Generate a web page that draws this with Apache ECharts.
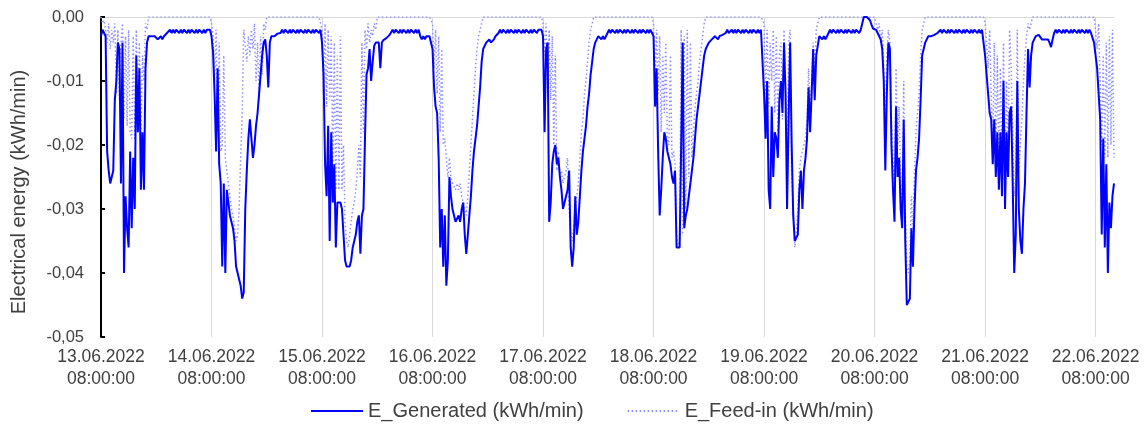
<!DOCTYPE html>
<html>
<head>
<meta charset="utf-8">
<script src="https://cdn.jsdelivr.net/npm/echarts@6/dist/echarts.min.js"></script>
<style>
  html, body { margin: 0; padding: 0; background: #fff; }
  #chart { width: 1147px; height: 428px; }
</style>
</head>
<body>
<div id="chart"></div>
<script>
// x axis: one point every 20 minutes from 13.06.2022 08:00, labels every day at 08:00
var startDay = 13;
var stepsPerDay = 72;
var dayLabels = ['13.06.2022', '14.06.2022', '15.06.2022', '16.06.2022', '17.06.2022',
                 '18.06.2022', '19.06.2022', '20.06.2022', '21.06.2022', '22.06.2022'];
var yTicks = [-0.05, -0.04, -0.03, -0.02, -0.01, 0];

// E_Generated (kWh/min), one array per day, 08:00 -> 07:40 next day
var gen13 = [
  -0.003, -0.002, -0.002, -0.003, -0.021, -0.024, -0.026, -0.026, -0.024, -0.013,
  -0.010, -0.004, -0.005, -0.026, -0.004, -0.040, -0.028, -0.033, -0.036, -0.021,
  -0.033, -0.022, -0.030, -0.006, -0.018, -0.008, -0.027, -0.018, -0.027, -0.008,
  -0.004, -0.003,
  -0.003, -0.003, -0.003, -0.003, -0.0033, -0.0035, -0.0035, -0.003, -0.0035, -0.003,
  -0.003, -0.0025, -0.0025, -0.002, -0.0025, -0.002, -0.0025, -0.002, -0.002, -0.0025,
  -0.002, -0.0025, -0.002, -0.002, -0.0025, -0.002, -0.0025, -0.002, -0.002, -0.0025,
  -0.002, -0.0025, -0.002, -0.002, -0.0025, -0.002, -0.0025, -0.002, -0.002, -0.002
];
var gen14 = [
  -0.003, -0.0055, -0.012, -0.021, -0.008, -0.023, -0.026, -0.039, -0.026, -0.040,
  -0.027, -0.029, -0.031, -0.031, -0.033, -0.035, -0.039, -0.040, -0.040, -0.042,
  -0.044, -0.043, -0.030, -0.024, -0.019, -0.016, -0.016, -0.022, -0.020, -0.017,
  -0.015, -0.012, -0.009, -0.006, -0.004, -0.0035, -0.006, -0.011, -0.004, -0.003,
  -0.003, -0.003, -0.0028, -0.0026, -0.0025, -0.0025, -0.002, -0.0025, -0.002, -0.002,
  -0.0025, -0.002, -0.0025, -0.002, -0.002, -0.0025, -0.002, -0.0025, -0.002, -0.002,
  -0.0025, -0.002, -0.0025, -0.002, -0.002, -0.0025, -0.002, -0.0025, -0.002, -0.002,
  -0.0025, -0.002
];
var gen15 = [
  -0.004, -0.009, -0.023, -0.028, -0.017, -0.035, -0.018, -0.029, -0.023, -0.036,
  -0.029, -0.029, -0.029, -0.030, -0.030, -0.038, -0.039, -0.039, -0.039, -0.038,
  -0.036, -0.035, -0.034, -0.032, -0.031, -0.037, -0.031, -0.030, -0.019, -0.009,
  -0.008, -0.005, -0.010, -0.007, -0.0045, -0.004, -0.0042, -0.004, -0.008, -0.004,
  -0.0036, -0.0036, -0.0033, -0.003, -0.0028, -0.0025,
  -0.002, -0.0025, -0.002, -0.002, -0.0025, -0.002, -0.0025, -0.002, -0.002, -0.0025,
  -0.002, -0.0025, -0.002, -0.002, -0.0025, -0.002, -0.0025, -0.002, -0.003, -0.0035,
  -0.003, -0.0035, -0.003, -0.003, -0.003, -0.003
];
var gen16 = [
  -0.005, -0.011, -0.014, -0.015, -0.022, -0.036, -0.030, -0.039, -0.031, -0.042,
  -0.038, -0.025, -0.028, -0.030, -0.031, -0.032, -0.032, -0.031, -0.032, -0.030,
  -0.029, -0.034, -0.037, -0.034, -0.031, -0.028, -0.024, -0.021, -0.019, -0.017,
  -0.014, -0.011, -0.007, -0.005, -0.0045, -0.004, -0.004, -0.0035, -0.004, -0.004,
  -0.0035, -0.003, -0.0028,
  -0.0025, -0.002, -0.0025, -0.002, -0.002, -0.0025, -0.002, -0.0025, -0.002, -0.002,
  -0.0025, -0.002, -0.0025, -0.002, -0.002, -0.0025, -0.002, -0.0025, -0.002, -0.002,
  -0.0025, -0.002, -0.0025, -0.002, -0.002, -0.0025, -0.002, -0.002, -0.002
];
var gen17 = [
  -0.003, -0.018, -0.005, -0.004, -0.032, -0.029, -0.023, -0.021, -0.020, -0.023,
  -0.022, -0.025, -0.027, -0.030, -0.029, -0.029, -0.027, -0.024, -0.036, -0.039,
  -0.036, -0.028, -0.034, -0.032, -0.028, -0.024, -0.021, -0.019, -0.017, -0.014,
  -0.012, -0.009, -0.007, -0.005, -0.004, -0.0035, -0.003, -0.003, -0.0035, -0.003,
  -0.0035, -0.003,
  -0.0025, -0.002, -0.0025, -0.002, -0.002, -0.0025, -0.002, -0.0025, -0.002, -0.002,
  -0.0025, -0.002, -0.0025, -0.002, -0.002, -0.0025, -0.002, -0.0025, -0.002, -0.002,
  -0.0025, -0.002, -0.0025, -0.002, -0.002, -0.0025, -0.002, -0.0025, -0.002, -0.002
];
var gen18 = [
  -0.003, -0.014, -0.008, -0.021, -0.031, -0.027, -0.022, -0.018, -0.019, -0.021,
  -0.022, -0.023, -0.025, -0.026, -0.024, -0.036, -0.036, -0.036, -0.036, -0.004,
  -0.033, -0.031, -0.030, -0.028, -0.026, -0.024, -0.022, -0.019, -0.016, -0.014,
  -0.012, -0.010, -0.008, -0.006, -0.005, -0.0045, -0.004, -0.004, -0.0035, -0.0038,
  -0.003, -0.003, -0.0035, -0.003, -0.003, -0.0028,
  -0.0025, -0.0025, -0.002, -0.0025, -0.0025, -0.002, -0.0025, -0.002, -0.0025, -0.002,
  -0.002, -0.0025, -0.002, -0.0025, -0.002, -0.002, -0.0025, -0.002, -0.0025, -0.002,
  -0.002, -0.0025, -0.002, -0.0025, -0.002, -0.002
];
var gen19 = [
  -0.012, -0.019, -0.010, -0.027, -0.030, -0.014, -0.025, -0.018, -0.019, -0.022,
  -0.013, -0.010, -0.015, -0.004, -0.012, -0.030, -0.016, -0.004, -0.020, -0.031,
  -0.035, -0.035, -0.034, -0.027, -0.024, -0.030, -0.024, -0.022, -0.019, -0.011,
  -0.018, -0.012, -0.005, -0.013, -0.006, -0.006, -0.003, -0.003, -0.0035, -0.003,
  -0.0035, -0.003,
  -0.0025, -0.002, -0.0025, -0.002, -0.002, -0.0025, -0.002, -0.0025, -0.002, -0.002,
  -0.0025, -0.002, -0.0025, -0.002, -0.002, -0.0025, -0.002, -0.0025, -0.002, -0.002,
  -0.0025, -0.002, -0.002, 0, 0, 0, 0, -0.0005, -0.0012, -0.0018
];
var gen20 = [
  -0.002, -0.002, -0.0025, -0.003, -0.0035, -0.005, -0.010, -0.024, -0.012, -0.004,
  -0.005, -0.020, -0.027, -0.032, -0.014, -0.025, -0.022, -0.030, -0.033, -0.016,
  -0.035, -0.045, -0.045, -0.044, -0.033, -0.039, -0.030, -0.024, -0.022, -0.019,
  -0.013, -0.006, -0.005, -0.004, -0.0035, -0.003, -0.003, -0.003, -0.0028, -0.0028,
  -0.003,
  -0.0025, -0.0025, -0.002, -0.0025, -0.002, -0.002, -0.0025, -0.002, -0.0025, -0.002,
  -0.002, -0.0025, -0.002, -0.0025, -0.002, -0.002, -0.0025, -0.002, -0.0025, -0.002,
  -0.002, -0.0025, -0.002, -0.0025, -0.002, -0.002, -0.0025, -0.002, -0.0025, -0.002,
  -0.002
];
var gen21 = [
  -0.006, -0.009, -0.012, -0.015, -0.016, -0.023, -0.016, -0.025, -0.018, -0.027,
  -0.018, -0.028, -0.010, -0.030, -0.018, -0.025, -0.015, -0.014, -0.026, -0.040,
  -0.034, -0.010, -0.030, -0.035, -0.037, -0.030, -0.026, -0.015, -0.005, -0.011,
  -0.006, -0.004, -0.0035, -0.003, -0.003, -0.0028, -0.003, -0.0035, -0.0035, -0.0035,
  -0.0035, -0.0035, -0.004, -0.0047, -0.0035, -0.0025,
  -0.002, -0.0025, -0.002, -0.002, -0.0025, -0.002, -0.0025, -0.002, -0.002, -0.0025,
  -0.002, -0.0025, -0.002, -0.002, -0.0025, -0.002, -0.0025, -0.002, -0.002, -0.0025,
  -0.002, -0.0025, -0.002, -0.0025, -0.0025, -0.004
];
var gen22 = [
  -0.004, -0.008, -0.012, -0.016, -0.034, -0.019, -0.036, -0.023, -0.040, -0.029,
  -0.033, -0.028, -0.026
];

// E_Feed-in (kWh/min), same time steps
var feed13 = [
  0, -0.001, -0.0005, -0.002, -0.004, -0.001, -0.005, -0.002, -0.004, -0.001,
  -0.012, -0.002, -0.013, -0.004, -0.001, -0.016, -0.003, -0.017, -0.002, -0.018,
  -0.019, -0.003, -0.019, -0.002, -0.018, -0.004, -0.019, -0.006, -0.010, -0.001,
  -0.002, 0,
  0, 0, 0, 0, 0, 0, 0, 0, 0, 0,
  0, 0, 0, 0, 0, 0, 0, 0, 0, 0,
  0, 0, 0, 0, 0, 0, 0, 0, 0, 0,
  0, 0, 0, 0, 0, 0, 0, 0, 0, 0
];
var feed14 = [
  -0.001, -0.003, -0.010, -0.002, -0.018, -0.004, -0.021, -0.020, -0.006, -0.022,
  -0.024, -0.026, -0.028, -0.030, -0.031, -0.033, -0.035, -0.034, -0.030, -0.022,
  -0.015, -0.002, -0.002, -0.007, -0.003, -0.006, -0.002, -0.005, -0.001, -0.010,
  -0.004, -0.013, -0.003, -0.009, -0.001, -0.002,
  0, 0, 0, 0, 0, 0, 0, 0, 0, 0,
  0, 0, 0, 0, 0, 0, 0, 0, 0, 0,
  0, 0, 0, 0, 0, 0, 0, 0, 0, 0,
  0, 0, 0, 0, 0, 0
];
var feed15 = [
  -0.002, -0.012, -0.001, -0.014, -0.002, -0.013, -0.003, -0.024, -0.004, -0.027,
  -0.006, -0.027, -0.003, -0.027, -0.020, -0.032, -0.035, -0.036, -0.034, -0.032,
  -0.030, -0.029, -0.027, -0.024, -0.020, -0.025, -0.004, -0.018, -0.002, -0.005,
  -0.001, -0.004, -0.002, -0.003, -0.001, -0.002,
  0, 0, 0, 0, 0, 0, 0, 0, 0, 0,
  0, 0, 0, 0, 0, 0, 0, 0, 0, 0,
  0, 0, 0, 0, 0, 0, 0, 0, 0, 0,
  0, 0, 0, 0, 0, 0
];
var feed16 = [
  -0.001, -0.008, -0.002, -0.012, -0.003, -0.018, -0.005, -0.020, -0.019, -0.022,
  -0.025, -0.022, -0.025, -0.026, -0.026, -0.027, -0.026, -0.027, -0.026, -0.028,
  -0.029, -0.030, -0.031, -0.028, -0.024, -0.020, -0.016, -0.012, -0.008, -0.005,
  -0.003, -0.002, -0.001,
  0, 0, 0, 0, 0, 0, 0, 0, 0, 0,
  0, 0, 0, 0, 0, 0, 0, 0, 0, 0,
  0, 0, 0, 0, 0, 0, 0, 0, 0, 0,
  0, 0, 0, 0, 0, 0, 0, 0, 0
];
var feed17 = [
  -0.001, -0.006, -0.001, -0.012, -0.002, -0.013, -0.003, -0.020, -0.006, -0.024,
  -0.021, -0.025, -0.024, -0.026, -0.025, -0.024, -0.022, -0.030, -0.034, -0.035,
  -0.033, -0.030, -0.030, -0.026, -0.022, -0.018, -0.016, -0.012, -0.010, -0.007,
  -0.004, -0.002, -0.001,
  0, 0, 0, 0, 0, 0, 0, 0, 0, 0,
  0, 0, 0, 0, 0, 0, 0, 0, 0, 0,
  0, 0, 0, 0, 0, 0, 0, 0, 0, 0,
  0, 0, 0, 0, 0, 0, 0, 0, 0
];
var feed18 = [
  -0.001, -0.010, -0.002, -0.012, -0.003, -0.018, -0.006, -0.015, -0.004, -0.019,
  -0.020, -0.006, -0.022, -0.021, -0.023, -0.034, -0.036, -0.035, -0.002, -0.034,
  -0.003, -0.030, -0.002, -0.025, -0.004, -0.022, -0.018, -0.014, -0.012, -0.010,
  -0.007, -0.005, -0.003, -0.001,
  0, 0, 0, 0, 0, 0, 0, 0, 0, 0,
  0, 0, 0, 0, 0, 0, 0, 0, 0, 0,
  0, 0, 0, 0, 0, 0, 0, 0, 0, 0,
  0, 0, 0, 0, 0, 0, 0, 0
];
var feed19 = [
  -0.001, -0.012, -0.002, -0.014, -0.004, -0.010, -0.002, -0.015, -0.003, -0.018,
  -0.006, -0.004, -0.016, -0.002, -0.010, -0.028, -0.004, -0.002, -0.025, -0.030,
  -0.036, -0.034, -0.030, -0.024, -0.022, -0.021, -0.020, -0.019, -0.016, -0.008,
  -0.015, -0.010, -0.004, -0.008, -0.002, -0.001,
  0, 0, 0, 0, 0, 0, 0, 0, 0, 0,
  0, 0, 0, 0, 0, 0, 0, 0, 0, 0,
  0, 0, 0, 0, 0, 0, 0, 0, 0, 0,
  0, 0, 0, 0, 0, 0
];
var feed20 = [
  0, -0.001, -0.002, -0.001, -0.004, -0.002, -0.008, -0.020, -0.006, -0.002,
  -0.004, -0.016, -0.022, -0.028, -0.008, -0.020, -0.014, -0.026, -0.030, -0.010,
  -0.030, -0.039, -0.040, -0.038, -0.028, -0.034, -0.024, -0.018, -0.015, -0.012,
  -0.006, -0.002, -0.001,
  0, 0, 0, 0, 0, 0, 0, 0, 0, 0,
  0, 0, 0, 0, 0, 0, 0, 0, 0, 0,
  0, 0, 0, 0, 0, 0, 0, 0, 0, 0,
  0, 0, 0, 0, 0, 0, 0, 0, 0
];
var feed21 = [
  -0.001, -0.004, -0.008, -0.002, -0.012, -0.020, -0.004, -0.022, -0.006, -0.024,
  -0.008, -0.025, -0.004, -0.027, -0.010, -0.022, -0.002, -0.008, -0.018, -0.028,
  -0.026, -0.002, -0.024, -0.020, -0.016, -0.010, -0.006, -0.003, -0.001, -0.002,
  -0.001,
  0, 0, 0, 0, 0, 0, 0, 0, 0, 0,
  0, 0, 0, 0, 0, 0, 0, 0, 0, 0,
  0, 0, 0, 0, 0, 0, 0, 0, 0, 0,
  0, 0, 0, 0, 0, 0, 0, 0, 0, 0,
  0
];
var feed22 = [
  -0.002, -0.005, -0.001, -0.010, -0.020, -0.006, -0.022, -0.004, -0.022, -0.003,
  -0.020, -0.002, -0.022
];

var genDays = [gen13, gen14, gen15, gen16, gen17, gen18, gen19, gen20, gen21, gen22];
var feedDays = [feed13, feed14, feed15, feed16, feed17, feed18, feed19, feed20, feed21, feed22];

// place every day at its own offset so one short day doesn't shift the rest
function joinDays(days) {
    var out = [];
    days.forEach(function (arr, d) {
        arr.forEach(function (v, i) { out[d * stepsPerDay + i] = v; });
    });
    return out;
}
var genData = joinDays(genDays);
var feedData = joinDays(feedDays);

function pad(n) { return n < 10 ? '0' + n : '' + n; }
var times = [];
for (var n = 0; n < genData.length; n++) {
    var mins = 8 * 60 + n * 20;
    var day = startDay + Math.floor(mins / 1440);
    var m = mins % 1440;
    times.push(pad(day) + '.06.2022 ' + pad(Math.floor(m / 60)) + ':' + pad(m % 60) + ':00');
}

function isDayTick(idx) { return idx % stepsPerDay === 0; }

var txt = '#404040';
var font = 'Liberation Sans, Arial, sans-serif';

var myChart = echarts.init(document.getElementById('chart'));
var option = {
    animation: false,
    backgroundColor: '#fff',
    textStyle: { fontFamily: font },
    grid: { left: 101, right: 33, top: 17, bottom: 91 },
    legend: {
        left: 305,
        top: 396,
        itemWidth: 52,
        itemHeight: 12,
        itemGap: 43,
        itemStyle: { opacity: 0 },
        textStyle: { color: txt, fontSize: 20, fontFamily: font },
        data: ['E_Generated (kWh/min)', 'E_Feed-in (kWh/min)']
    },
    // y axis title sits a bit below the plot centre in the original
    graphic: [{
        type: 'text',
        x: 19,
        y: 192,
        rotation: Math.PI / 2,
        style: {
            text: 'Electrical energy (kWh/min)',
            fill: txt,
            font: '20px ' + font,
            textAlign: 'center',
            textVerticalAlign: 'middle'
        }
    }],
    xAxis: [{
        type: 'category',
        data: times,
        boundaryGap: false,
        axisLine: { show: false, onZero: false },
        axisTick: { show: false },
        splitLine: { show: true, interval: isDayTick, lineStyle: { color: '#d9d9d9', width: 1 } },
        axisLabel: {
            interval: isDayTick,
            color: txt,
            fontSize: 17.5,
            lineHeight: 22,
            margin: 9,
            formatter: function (val, idx) {
                var k = Math.round(idx / stepsPerDay);
                return dayLabels[k] + '\n08:00:00';
            }
        }
    }, {
        type: 'category',
        data: times,
        boundaryGap: false,
        position: 'top',
        axisLine: { show: true, onZero: false, lineStyle: { color: '#d9d9d9', width: 1 } },
        axisTick: { show: false },
        axisLabel: { show: false },
        splitLine: { show: false }
    }],
    yAxis: {
        type: 'value',
        min: yTicks[0],
        max: yTicks[yTicks.length - 1],
        interval: 0.01,
        axisLine: { show: true, lineStyle: { color: '#000', width: 2 } },
        axisTick: { show: true, inside: true, length: 4, lineStyle: { color: '#000', width: 2 } },
        splitLine: { show: false },
        axisLabel: {
            color: txt,
            fontSize: 16.5,
            margin: 17,
            formatter: function (v) { return v.toFixed(2).replace('.', ','); }
        }
    },
    series: [{
        name: 'E_Generated (kWh/min)',
        type: 'line',
        data: genData,
        symbol: 'none',
        z: 3,
        lineStyle: { color: '#0000ff', width: 2 },
        itemStyle: { color: '#0000ff', opacity: 0 }
    }, {
        name: 'E_Feed-in (kWh/min)',
        type: 'line',
        data: feedData,
        symbol: 'none',
        z: 2,
        lineStyle: { color: '#8f8fff', width: 1.5, type: [1.5, 2.5] },
        itemStyle: { color: '#8f8fff', opacity: 0 }
    }]
};
myChart.setOption(option);
</script>
</body>
</html>
